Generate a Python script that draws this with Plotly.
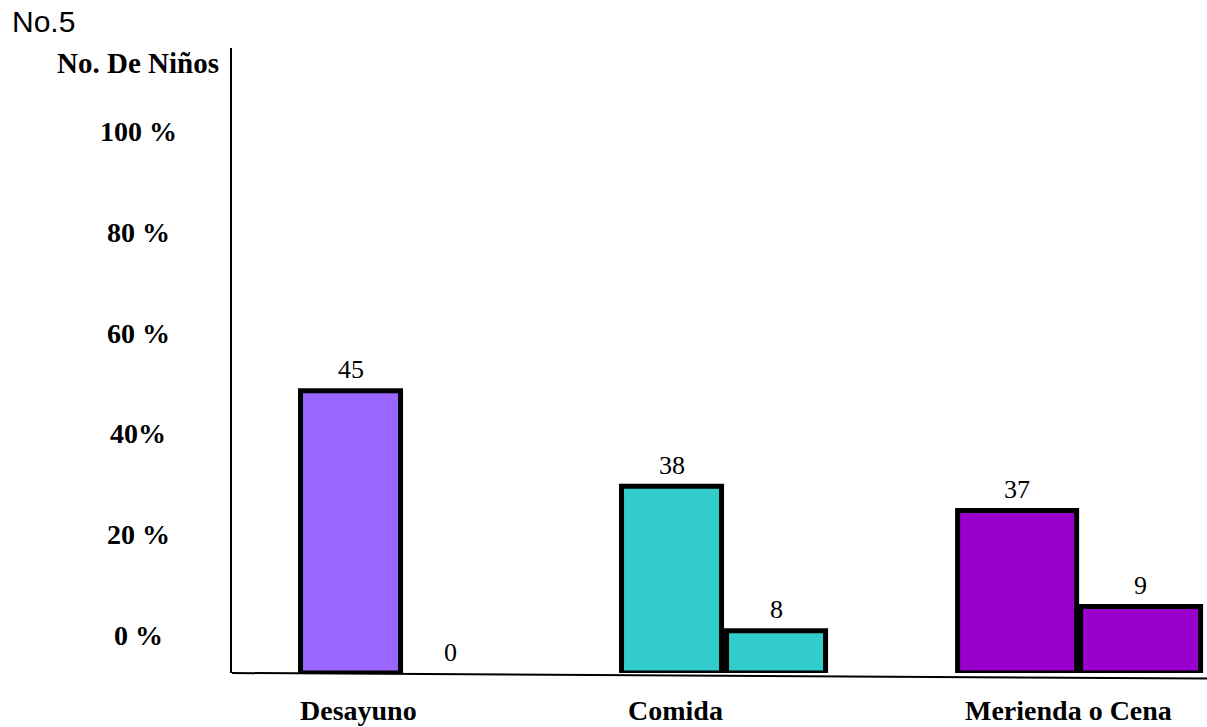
import plotly.graph_objects as go

# ---- data ----
categories = ["Desayuno", "Comida", "Merienda o Cena"]
counts_first = [45, 38, 37]
counts_second = [0, 8, 9]
# bar lengths as drawn on the chart's percent scale (measured from the baseline)
bar_len_first = [56.1, 37.1, 32.3]
bar_len_second = [0.0, 8.4, 13.2]
tick_vals = [0, 20, 40, 60, 80, 100]
tick_text = ["0 %", "20 %", "40%", "60 %", "80 %", "100 %"]
colors = ["#9966FF", "#33CCCC", "#9900CC"]

Y_MIN, Y_MAX = -7.55, 116.63
X_RANGE = [-0.35, 2.358]
PLOT_W = 1207 - 232
SERIF = "Liberation Serif, Times New Roman, serif"

widths_first = [0.2778, 0.2778, 0.3306]
offsets_first = [-0.1597, -0.2681, -0.3347]
widths_second = [0.2778, 0.275, 0.3333]
offsets_second = [0.1167, 0.0236, 0.0069]

fig = go.Figure()
fig.add_trace(go.Bar(
    x=categories, y=bar_len_first, base=Y_MIN,
    marker=dict(color=colors, line=dict(color="black", width=5)),
    width=widths_first, offset=offsets_first,
    cliponaxis=False, showlegend=False, hoverinfo="skip",
))
fig.add_trace(go.Bar(
    x=categories, y=bar_len_second, base=Y_MIN,
    marker=dict(color=colors, line=dict(color="black", width=[0, 5, 5])),
    width=widths_second, offset=offsets_second,
    cliponaxis=False, showlegend=False, hoverinfo="skip",
))

px_per_unit = PLOT_W / (X_RANGE[1] - X_RANGE[0])
annotations = []
# value labels above bars
for counts, lens, offs, wids in ((counts_first, bar_len_first, offsets_first, widths_first),
                                 (counts_second, bar_len_second, offsets_second, widths_second)):
    for c, n, L, o, w in zip(categories, counts, lens, offs, wids):
        annotations.append(dict(
            x=c, xref="x", y=Y_MIN + L, yref="y", text=str(n), showarrow=False,
            xshift=(o + w / 2) * px_per_unit, yshift=21,
            xanchor="center", yanchor="middle",
            font=dict(family=SERIF, size=26, color="black"),
        ))
# y tick labels (centered, as in the reference)
for v, t in zip(tick_vals, tick_text):
    annotations.append(dict(
        x=-0.0959, xref="paper", y=v, yref="y", text=t, showarrow=False,
        xanchor="center", yanchor="middle",
        font=dict(family=SERIF, size=28, color="black", weight="bold"),
    ))
# category labels
x_shifts = [0, -42.5, -9.5]
for c, xs in zip(categories, x_shifts):
    annotations.append(dict(
        x=c, xref="x", y=0, yref="paper", yshift=-37, xshift=xs, text=c,
        showarrow=False, xanchor="center", yanchor="middle",
        font=dict(family=SERIF, size=28, color="black", weight="bold"),
    ))
# axis title
annotations.append(dict(
    x=-0.0113, xref="paper", y=0.976, yref="paper", text="No. De Niños",
    showarrow=False, xanchor="right", yanchor="middle",
    font=dict(family=SERIF, size=29, color="black", weight="bold"),
))
# chart title
annotations.append(dict(
    x=-0.2277, xref="paper", y=1.0416, yref="paper", text="No.5",
    showarrow=False, xanchor="left", yanchor="middle",
    font=dict(family="Liberation Sans, Arial, sans-serif", size=30, color="black"),
))

fig.update_layout(
    width=1207, height=727,
    margin=dict(l=232, r=0, t=48, b=54),
    paper_bgcolor="white", plot_bgcolor="white",
    barmode="overlay",
    xaxis=dict(type="category", range=X_RANGE, showticklabels=False,
               showline=False, showgrid=False, zeroline=False, ticks=""),
    yaxis=dict(range=[Y_MIN, Y_MAX], showticklabels=False, showgrid=False,
               zeroline=False, showline=True, linecolor="black", linewidth=2,
               ticks=""),
    annotations=annotations,
    shapes=[dict(type="line", xref="paper", yref="paper", x0=0, y0=0, x1=1, y1=-0.0088,
                 line=dict(color="black", width=2), layer="below")],
)

fig.write_html(
    "out.html",
    config={"displayModeBar": False},
    post_script="document.body.style.margin='0';document.body.style.overflow='hidden';",
)
